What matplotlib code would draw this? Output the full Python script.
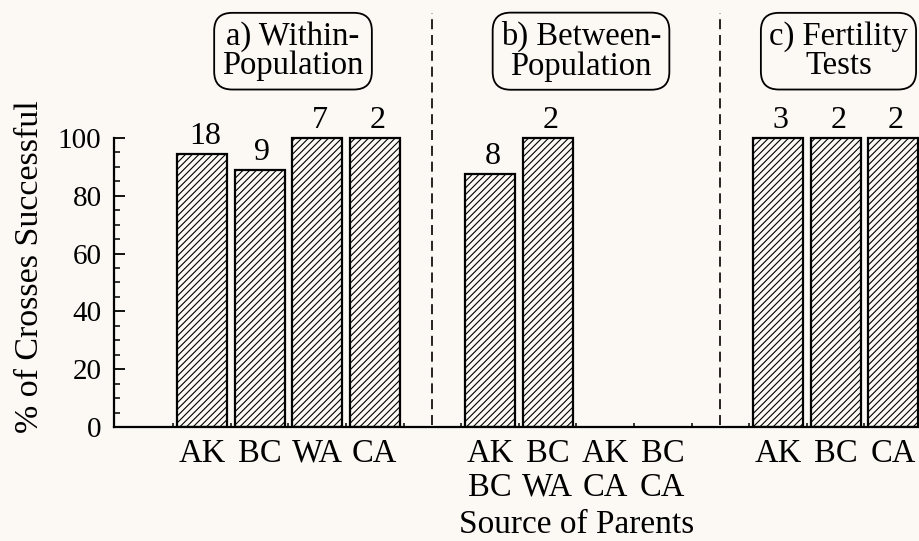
import matplotlib.pyplot as plt
from matplotlib.ticker import FixedLocator
import matplotlib.transforms as mtransforms

plt.rcParams['font.family'] = ['Liberation Serif', 'DejaVu Serif']
plt.rcParams['hatch.linewidth'] = 0.8

# data
within_labels = ['AK', 'BC', 'WA', 'CA']
within_pct = [94.4, 88.9, 100, 100]
within_n = [18, 9, 7, 2]

between_labels = ['AK\nBC', 'BC\nWA', 'AK\nCA', 'BC\nCA']
between_pct = [87.5, 100, 0, 0]
between_n = [8, 2, None, None]

fert_labels = ['AK', 'BC', 'CA']
fert_pct = [100, 100, 100]
fert_n = [3, 2, 2]

panel_titles = ['a) Within-\nPopulation', 'b) Between-\nPopulation', 'c) Fertility\nTests']

bg = '#fcf8f4'

# slot positions: groups separated by one empty slot
pos_a = [0, 1, 2, 3]
pos_b = [5, 6, 7, 8]
pos_c = [10, 11, 12]
dividers = [4, 9]

fig = plt.figure(figsize=(9.19, 5.41), dpi=100)
fig.patch.set_facecolor(bg)
ax = fig.add_axes([114 / 919, 114 / 541, 805 / 919, 427 / 541])
ax.set_facecolor(bg)

positions = pos_a + pos_b + pos_c
values = within_pct + between_pct + fert_pct
counts = within_n + between_n + fert_n
labels = within_labels + between_labels + fert_labels

width = 0.87
for x, v in zip(positions, values):
    if v > 0:
        ax.bar(x, v, width=width, facecolor=bg, edgecolor='black',
               hatch='/////', linewidth=1.6)

for x, v, n in zip(positions, values, counts):
    if n is not None:
        ax.text(x + 0.05, v + 1.2, str(n), ha='center', va='bottom', fontsize=23)

ax.set_xlim(-1.528, 12.448)
ax.set_ylim(0, 147.75)

ax.vlines(dividers, 0.7, 143.3, colors='black', linewidth=1.2,
          linestyles=(0, (6, 3.5)))

# panel title boxes
title_x = [1.58, 6.58, 11.05]
for tx, t in zip(title_x, panel_titles):
    ax.text(tx, 130, t, ha='center', va='center', fontsize=23.5, linespacing=0.95,
            bbox=dict(boxstyle='round,pad=0.25,rounding_size=0.55',
                      facecolor=bg, edgecolor='black', linewidth=1.3))

# axes styling
for s in ['top', 'right']:
    ax.spines[s].set_visible(False)
ax.spines['left'].set_bounds(0, 100)
ax.spines['left'].set_linewidth(1.6)
ax.spines['bottom'].set_linewidth(1.6)

ax.yaxis.set_major_locator(FixedLocator([0, 20, 40, 60, 80, 100]))
ax.yaxis.set_minor_locator(FixedLocator([v for v in range(5, 100, 5) if v % 20]))
ax.tick_params(axis='y', which='major', direction='in', length=8, width=1.3,
               labelsize=21, pad=9)
ax.tick_params(axis='y', which='minor', direction='in', length=4.5, width=1.1)

ax.set_xticks(positions)
ax.set_xticklabels(labels)
ax.tick_params(axis='x', which='major', length=0, labelsize=23.5, pad=8)
for lbl in ax.get_xticklabels():
    lbl.set_linespacing(1.15)
edges = [p - 0.5 for p in positions] + [p + 0.5 for p in positions]
ax.xaxis.set_minor_locator(FixedLocator(sorted(set(edges))))
ax.tick_params(axis='x', which='minor', direction='in', length=3, width=1.1)

fig.text(30 / 919, 1 - 267 / 541, '% of Crosses Successful', rotation=90,
         ha='center', va='center', fontsize=24.5)
trans = mtransforms.blended_transform_factory(ax.transData, fig.transFigure)
ax.text(6.5, 1 - 525 / 541, 'Source of Parents', transform=trans,
        ha='center', va='center', fontsize=24)

fig.savefig('out.png', dpi=100, facecolor=bg)
